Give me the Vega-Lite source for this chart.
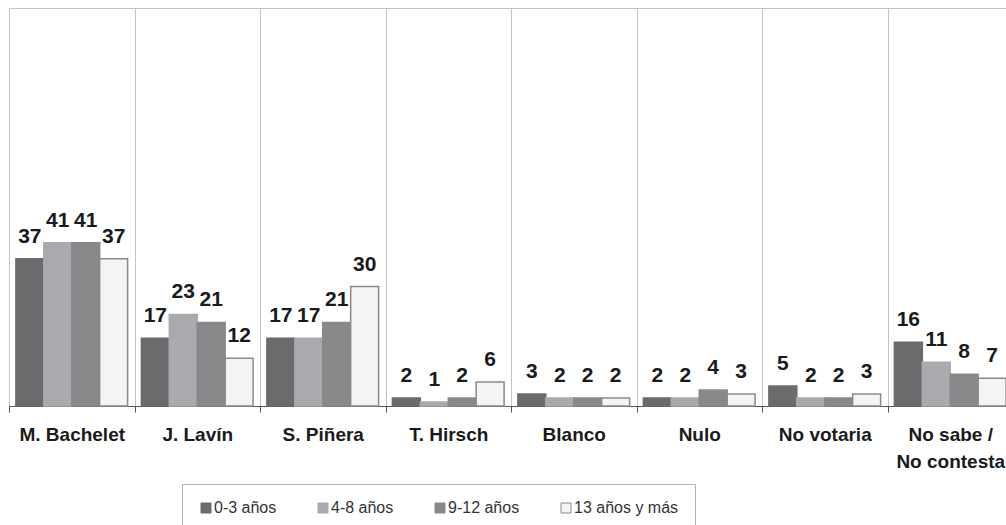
{
  "$schema": "https://vega.github.io/schema/vega-lite/v6.json",
  "width": 1004,
  "height": 398,
  "autosize": {"type": "none"},
  "padding": {"left": 9, "top": 8, "right": -7, "bottom": 119},
  "background": "white",
  "config": {"view": {"stroke": null}, "font": "Liberation Sans"},
  "data": {
    "values": [
      {"candidato": "M. Bachelet", "grupo": "0-3 años", "valor": 37},
      {"candidato": "M. Bachelet", "grupo": "4-8 años", "valor": 41},
      {"candidato": "M. Bachelet", "grupo": "9-12 años", "valor": 41},
      {"candidato": "M. Bachelet", "grupo": "13 años y más", "valor": 37},
      {"candidato": "J. Lavín", "grupo": "0-3 años", "valor": 17},
      {"candidato": "J. Lavín", "grupo": "4-8 años", "valor": 23},
      {"candidato": "J. Lavín", "grupo": "9-12 años", "valor": 21},
      {"candidato": "J. Lavín", "grupo": "13 años y más", "valor": 12},
      {"candidato": "S. Piñera", "grupo": "0-3 años", "valor": 17},
      {"candidato": "S. Piñera", "grupo": "4-8 años", "valor": 17},
      {"candidato": "S. Piñera", "grupo": "9-12 años", "valor": 21},
      {"candidato": "S. Piñera", "grupo": "13 años y más", "valor": 30},
      {"candidato": "T. Hirsch", "grupo": "0-3 años", "valor": 2},
      {"candidato": "T. Hirsch", "grupo": "4-8 años", "valor": 1},
      {"candidato": "T. Hirsch", "grupo": "9-12 años", "valor": 2},
      {"candidato": "T. Hirsch", "grupo": "13 años y más", "valor": 6},
      {"candidato": "Blanco", "grupo": "0-3 años", "valor": 3},
      {"candidato": "Blanco", "grupo": "4-8 años", "valor": 2},
      {"candidato": "Blanco", "grupo": "9-12 años", "valor": 2},
      {"candidato": "Blanco", "grupo": "13 años y más", "valor": 2},
      {"candidato": "Nulo", "grupo": "0-3 años", "valor": 2},
      {"candidato": "Nulo", "grupo": "4-8 años", "valor": 2},
      {"candidato": "Nulo", "grupo": "9-12 años", "valor": 4},
      {"candidato": "Nulo", "grupo": "13 años y más", "valor": 3},
      {"candidato": "No votaria", "grupo": "0-3 años", "valor": 5},
      {"candidato": "No votaria", "grupo": "4-8 años", "valor": 2},
      {"candidato": "No votaria", "grupo": "9-12 años", "valor": 2},
      {"candidato": "No votaria", "grupo": "13 años y más", "valor": 3},
      {"candidato": "No sabe / No contesta", "grupo": "0-3 años", "valor": 16},
      {"candidato": "No sabe / No contesta", "grupo": "4-8 años", "valor": 11},
      {"candidato": "No sabe / No contesta", "grupo": "9-12 años", "valor": 8},
      {"candidato": "No sabe / No contesta", "grupo": "13 años y más", "valor": 7}
    ]
  },
  "encoding": {
    "x": {
      "field": "candidato",
      "type": "nominal",
      "sort": null,
      "scale": {"paddingInner": 0, "paddingOuter": 0},
      "axis": {
        "title": null,
        "grid": true,
        "tickBand": "extent",
        "gridColor": "#c4c4c4",
        "gridWidth": 1,
        "domainColor": "#555555",
        "tickColor": "#555555",
        "tickSize": 6,
        "labelFont": "Liberation Sans",
        "labelFontSize": 19,
        "labelFontWeight": "bold",
        "labelColor": "#1a1a1a",
        "labelPadding": 13,
        "labelAngle": 0,
        "labelLineHeight": 27,
        "labelOverlap": false,
        "labelBound": false,
        "labelExpr": "datum.label == 'No sabe / No contesta' ? ['No sabe /', 'No contesta'] : datum.label"
      }
    },
    "xOffset": {
      "field": "grupo",
      "type": "nominal",
      "sort": ["0-3 años", "4-8 años", "9-12 años", "13 años y más"],
      "scale": {"paddingInner": 0, "paddingOuter": 0.247}
    },
    "y": {
      "field": "valor",
      "type": "quantitative",
      "scale": {"domain": [0, 100], "nice": false},
      "axis": {
        "title": null,
        "labels": false,
        "ticks": false,
        "domain": false,
        "grid": true,
        "values": [100],
        "gridColor": "#c4c4c4",
        "gridWidth": 1
      }
    }
  },
  "layer": [
    {
      "mark": {"type": "bar", "strokeWidth": 1.5},
      "encoding": {
        "fill": {
          "field": "grupo",
          "type": "nominal",
          "sort": ["0-3 años", "4-8 años", "9-12 años", "13 años y más"],
          "scale": {"domain": ["0-3 años", "4-8 años", "9-12 años", "13 años y más"], "range": ["#6a6b6d", "#a9aaad", "#88898b", "#f4f4f4"]},
          "legend": {
            "orient": "none",
            "legendX": 173,
            "legendY": 476,
            "direction": "horizontal",
            "columns": 4,
            "title": null,
            "padding": 16,
            "strokeColor": "#b4b4b4",
            "fillColor": "white",
            "symbolType": "square",
            "symbolSize": 100,
            "symbolStrokeWidth": 1,
            "labelFont": "Liberation Sans",
            "labelFontSize": 16,
            "labelColor": "#333333",
            "labelOffset": 0,
            "columnPadding": 38
          }
        },
        "stroke": {
          "field": "grupo",
          "type": "nominal",
          "sort": ["0-3 años", "4-8 años", "9-12 años", "13 años y más"],
          "scale": {"domain": ["0-3 años", "4-8 años", "9-12 años", "13 años y más"], "range": ["#6a6b6d", "#a9aaad", "#88898b", "#8a8a8a"]},
          "legend": {
            "orient": "none",
            "legendX": 173,
            "legendY": 476,
            "direction": "horizontal",
            "columns": 4,
            "title": null,
            "padding": 16,
            "strokeColor": "#b4b4b4",
            "fillColor": "white",
            "symbolType": "square",
            "symbolSize": 100,
            "symbolStrokeWidth": 1,
            "labelFont": "Liberation Sans",
            "labelFontSize": 16,
            "labelColor": "#333333",
            "labelOffset": 0,
            "columnPadding": 38
          }
        }
      }
    },
    {
      "mark": {"type": "text", "dy": -16, "baseline": "alphabetic", "fontSize": 21, "fontWeight": "bold", "font": "Liberation Sans", "color": "#1a1a1a"},
      "encoding": {"text": {"field": "valor", "type": "quantitative"}}
    }
  ]
}
